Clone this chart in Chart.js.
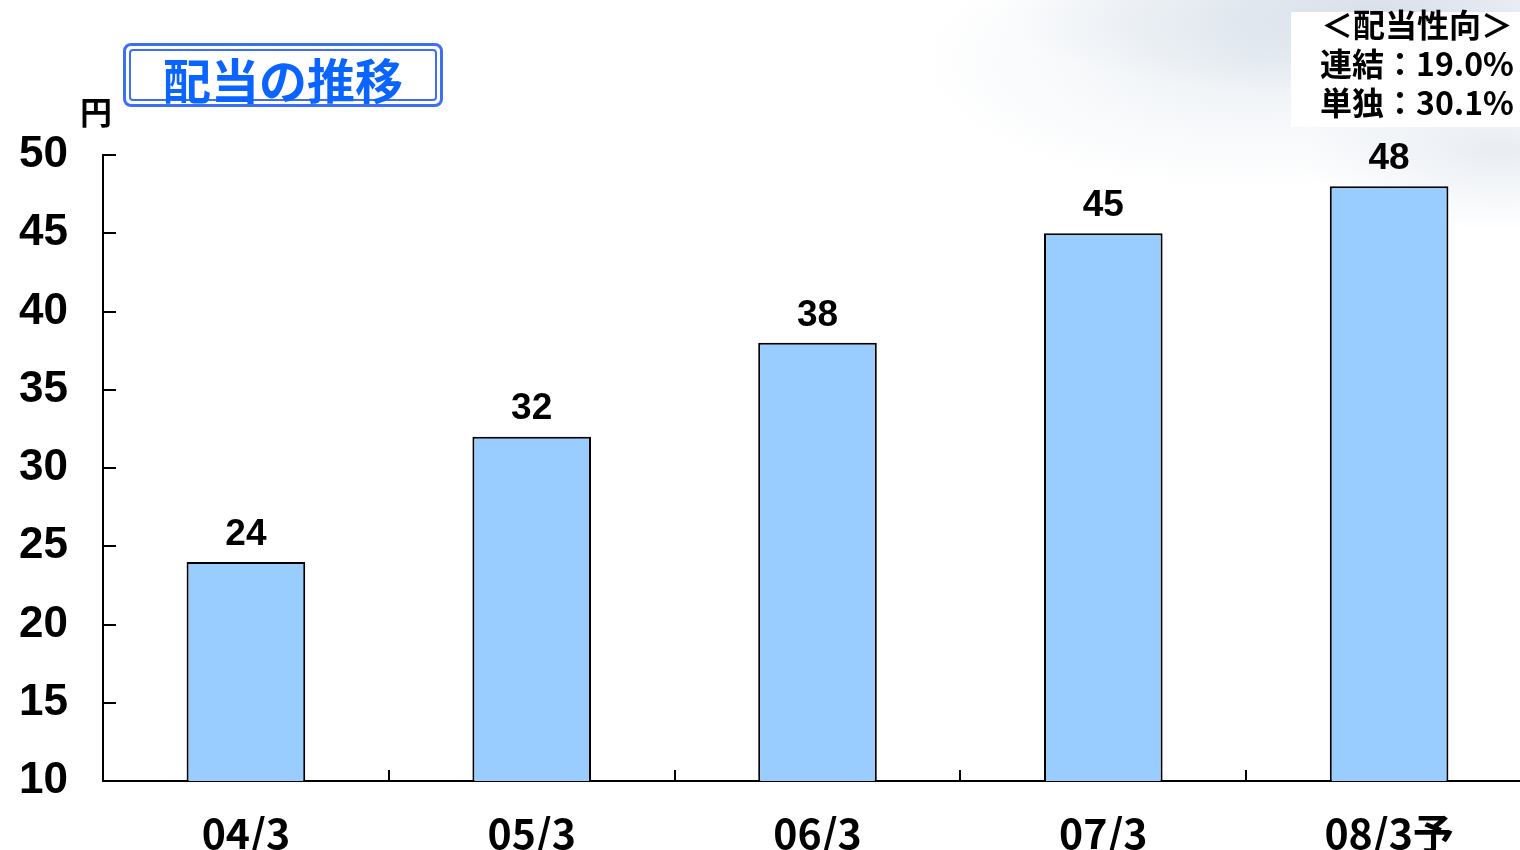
<!DOCTYPE html>
<html lang="ja">
<head>
<meta charset="utf-8">
<title>配当の推移</title>
<script src="https://cdn.jsdelivr.net/npm/chart.js@4/dist/chart.umd.min.js"></script>
<style>
  html, body { margin: 0; padding: 0; }
  body {
    width: 1520px; height: 850px; overflow: hidden; position: relative;
    background:
      radial-gradient(ellipse 380px 90px at 1380px 10px, rgba(196,208,222,0.6), rgba(255,255,255,0) 100%),
      radial-gradient(ellipse 330px 130px at 1250px 60px, rgba(214,224,234,0.45), rgba(255,255,255,0) 100%),
      radial-gradient(ellipse 200px 80px at 1500px 150px, rgba(205,215,228,0.45), rgba(255,255,255,0) 100%),
      #fff;
  }
  #wrap { position: absolute; left: 0; top: 0; width: 1532px; height: 850px; }
  .title {
    position: absolute; left: 123px; top: 43px; width: 314px; height: 58px;
    border: 3px solid #3c6ff5; border-radius: 8px; background: #fff;
  }
  .title .inner {
    position: absolute; left: 3px; top: 3px; right: 3px; bottom: 3px;
    border: 2px solid #3c6ff5; border-radius: 4px;
    font-family: "Noto Sans CJK JP", sans-serif; font-weight: bold;
    font-size: 48px; line-height: 54px; color: #0a64ff; text-align: center;
  }
  .unit {
    position: absolute; left: 80px; top: 92px;
    font-family: "Noto Sans CJK JP", sans-serif; font-weight: bold; font-size: 32px; line-height: 36px;
  }
  .payout {
    position: absolute; left: 1291px; top: 12px; width: 229px; height: 115px; background: #fff;
  }
  .payout div {
    position: absolute; left: 11px; width: 230px; top: -8px; white-space: nowrap;
    font-family: "Noto Sans CJK JP", sans-serif; font-weight: bold; font-size: 32px; line-height: 39px;
    text-align: center; color: #000;
  }
</style>
</head>
<body>
<div id="wrap"><canvas id="divChart"></canvas></div>
<div class="title"><div class="inner">配当の推移</div></div>
<div class="unit">円</div>
<div class="payout"><div>＜配当性向＞<br>連結：19.0%<br>単独：30.1%</div></div>
<script>
// 1株当たり配当金（円）
const categories = ["04/3", "05/3", "06/3", "07/3", "08/3予"];
const dividends = [24, 32, 38, 45, 48];
const yMin = 10, yMax = 50, yStep = 5;

// inward tick marks on both axes + value labels above the bars
const axisDecor = {
  id: 'axisDecor',
  afterDatasetsDraw(chart) {
    const ctx = chart.ctx;
    const x = chart.scales.x, y = chart.scales.y;
    const area = chart.chartArea;
    ctx.save();
    ctx.strokeStyle = '#000';
    ctx.lineWidth = 2;
    ctx.beginPath();
    for (let v = yMin; v <= yMax; v += yStep) {
      const py = Math.round(y.getPixelForValue(v));
      ctx.moveTo(area.left, py);
      ctx.lineTo(area.left + 13, py);
    }
    for (let i = 1; i < categories.length; i++) {
      const px = Math.round((x.getPixelForValue(i - 1) + x.getPixelForValue(i)) / 2);
      ctx.moveTo(px, area.bottom);
      ctx.lineTo(px, area.bottom - 11);
    }
    ctx.stroke();

    ctx.fillStyle = '#000';
    ctx.font = 'bold 37px "Liberation Sans", sans-serif';
    ctx.textAlign = 'center';
    ctx.textBaseline = 'bottom';
    chart.getDatasetMeta(0).data.forEach((bar, i) => {
      ctx.fillText(String(dividends[i]), bar.x, bar.y - 9);
    });
    ctx.restore();
  }
};

new Chart(document.getElementById('divChart'), {
  type: 'bar',
  data: {
    labels: categories,
    datasets: [{
      data: dividends,
      backgroundColor: '#99ccff',
      borderColor: '#000',
      borderWidth: 2,
      barPercentage: 0.415,
      categoryPercentage: 1.0
    }]
  },
  options: {
    responsive: true,
    maintainAspectRatio: false,
    animation: false,
    layout: { padding: { top: 155, left: 0, right: 0, bottom: 0 } },
    plugins: { legend: { display: false }, tooltip: { enabled: false } },
    scales: {
      x: {
        grid: { display: false },
        border: { color: '#000', width: 2 },
        ticks: {
          color: '#000',
          padding: 20,
          font: { family: '"Noto Sans CJK JP", sans-serif', size: 41, weight: 'bold' }
        },
        afterFit(scale) { scale.height = 69; }
      },
      y: {
        min: yMin,
        max: yMax,
        grid: { display: false },
        border: { color: '#000', width: 2 },
        ticks: {
          stepSize: yStep,
          color: '#000',
          padding: 27,
          font: { family: '"Liberation Sans", sans-serif', size: 44, weight: 'bold' }
        },
        afterFit(scale) { scale.width = 103; }
      }
    }
  },
  plugins: [axisDecor]
});
</script>
</body>
</html>
